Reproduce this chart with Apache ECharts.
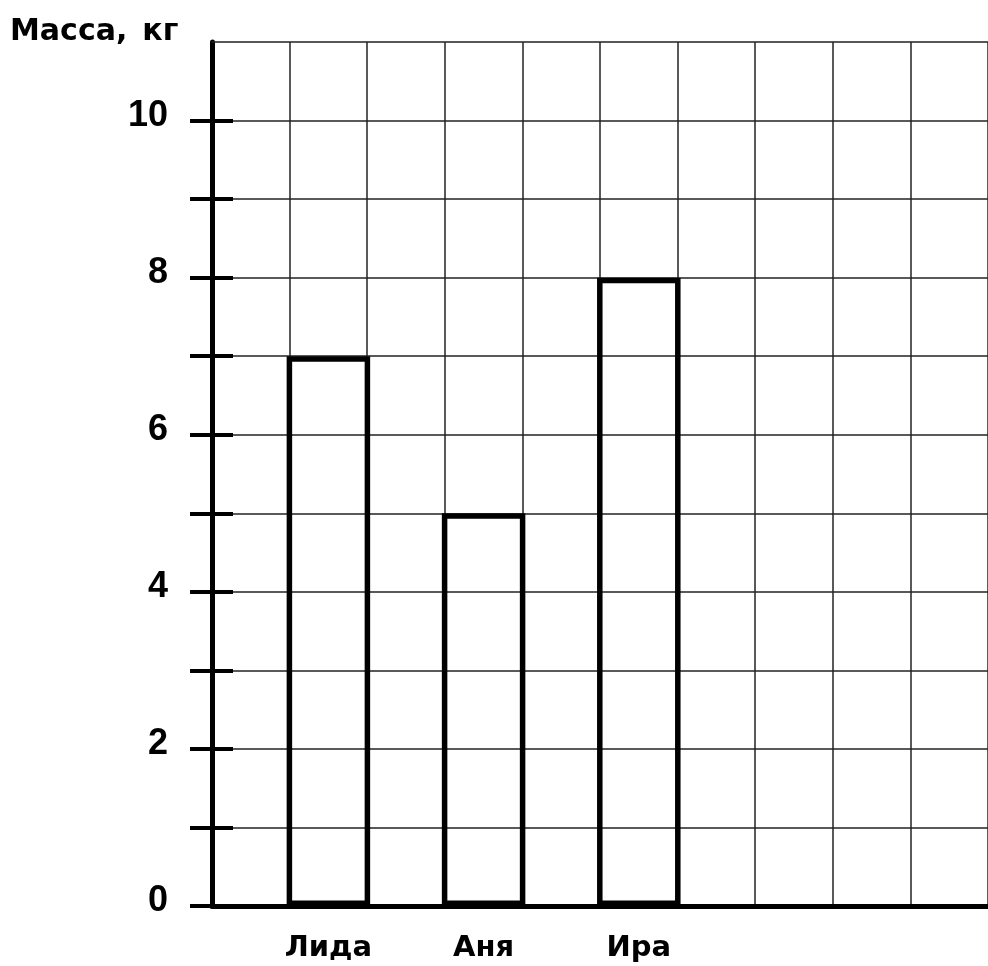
<!DOCTYPE html>
<html>
<head>
<meta charset="utf-8">
<script src="https://cdn.jsdelivr.net/npm/echarts@6/dist/echarts.min.js"></script>
<style>
html,body{margin:0;padding:0;background:#fff;}
#chart{width:988px;height:966px;}
</style>
</head>
<body>
<div id="chart"></div>
<script>
// Data
const categories = ['', 'Лида', '', 'Аня', '', 'Ира', '', '', '', ''];
const massValues = [null, 7, null, 5, null, 8, null, null, null, null];
const yTickValues = [0, 1, 2, 3, 4, 5, 6, 7, 8, 9, 10];
const yLabelValues = [0, 2, 4, 6, 8, 10];
const axisTitle = 'Масса,\u2002кг';

const chart = echarts.init(document.getElementById('chart'), null, {renderer: 'canvas'});
const font = 'DejaVu Sans';
const yCommon = {
  type: 'value', min: 0, max: 11, interval: 1, position: 'left'
};
chart.setOption({
  backgroundColor: '#fff',
  animation: false,
  title: {
    text: axisTitle, left: 10, top: 17, padding: 0,
    textStyle: {fontFamily: font, fontSize: 30, fontWeight: 'bold', color: '#000'}
  },
  grid: {left: 212, right: -10, top: 42, bottom: 60, containLabel: false},
  xAxis: [{
    type: 'category', data: categories, boundaryGap: true, position: 'bottom',
    axisLine: {show: true, onZero: false, lineStyle: {color: '#000', width: 5}},
    axisTick: {show: false},
    axisLabel: {show: true, interval: 0, margin: 28, color: '#000', fontFamily: font, fontSize: 29, fontWeight: 'bold'},
    splitLine: {show: true, interval: 0, lineStyle: {color: '#222', width: 1.5}}
  }, {
    type: 'category', data: categories, boundaryGap: true, position: 'top',
    axisLine: {show: true, onZero: false, lineStyle: {color: '#222', width: 1.5}},
    axisTick: {show: false},
    axisLabel: {show: false},
    splitLine: {show: false}
  }],
  yAxis: [
    Object.assign({}, yCommon, {
      axisLine: {show: true, lineStyle: {color: '#000', width: 5}},
      axisTick: {show: true, inside: false, length: 22, customValues: yTickValues, lineStyle: {color: '#000', width: 4}},
      axisLabel: {show: true, margin: 44, color: '#000', fontFamily: 'Liberation Sans', fontSize: 36, fontWeight: 'bold',
        customValues: yLabelValues, verticalAlign: 'bottom', lineHeight: 9},
      splitLine: {show: true, lineStyle: {color: '#222', width: 1.5}}
    }),
    Object.assign({}, yCommon, {
      axisLine: {show: false},
      axisTick: {show: true, inside: true, length: 21, customValues: yTickValues, lineStyle: {color: '#000', width: 4}},
      axisLabel: {show: false},
      splitLine: {show: false}
    })
  ],
  series: [{
    type: 'bar', data: massValues, xAxisIndex: 0, yAxisIndex: 0, barWidth: 83.5,
    itemStyle: {color: 'rgba(0,0,0,0)', borderColor: '#000', borderWidth: 5.5}
  }]
});
</script>
</body>
</html>
